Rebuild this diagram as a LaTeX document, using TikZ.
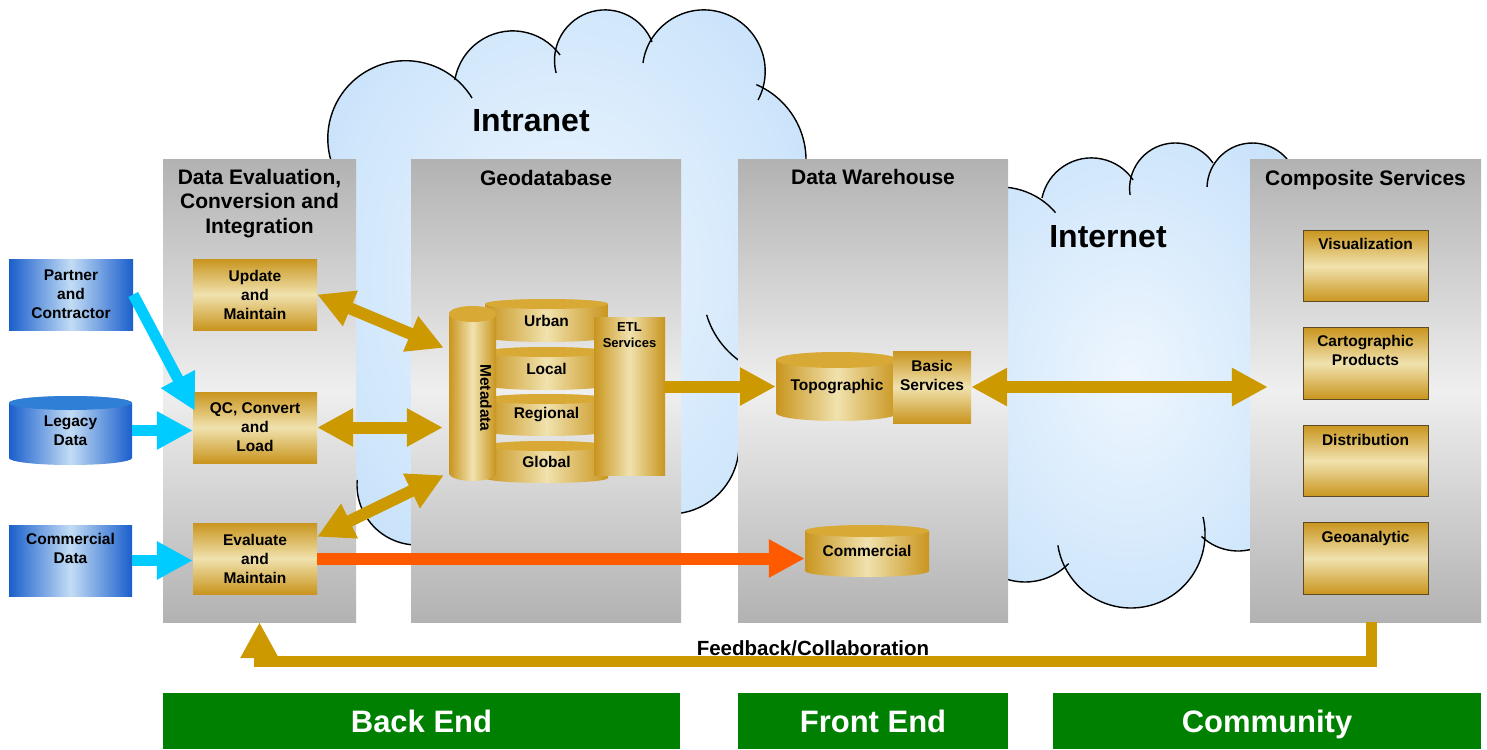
\documentclass[tikz,border=0pt]{standalone}
\usepackage{fontspec}
\setmainfont{Liberation Sans}
\usetikzlibrary{arrows.meta,positioning,calc}

\definecolor{panelgray}{HTML}{B2B2B2}
\definecolor{panellight}{HTML}{EFEFEF}
\definecolor{golddark}{HTML}{C9951E}
\definecolor{goldlight}{HTML}{F0E2AE}
\definecolor{goldcap}{HTML}{D8AA35}
\definecolor{goldline}{HTML}{CC9900}
\definecolor{bluedark}{HTML}{1A5FCC}
\definecolor{bluelight}{HTML}{C3DCF5}
\definecolor{bluecap}{HTML}{2F7FD6}
\definecolor{cloudin}{HTML}{EEF6FE}
\definecolor{cloudout}{HTML}{C4E0FA}
\definecolor{skyblue}{HTML}{00CCFF}
\definecolor{flame}{HTML}{FF5A00}
\definecolor{tabgreen}{HTML}{008000}
\definecolor{compedge}{HTML}{5C4A24}

\tikzset{
  panel/.style={top color=panelgray, bottom color=panelgray, middle color=panellight,
    minimum width=#1, minimum height=463, inner sep=0},
  paneltitle/.style={font=\fontsize{21}{24.5}\selectfont\bfseries, align=center, inner sep=0},
  itemtext/.style={font=\fontsize{15.5}{19}\selectfont\bfseries, align=center, inner sep=0},
  smalltext/.style={font=\fontsize{13}{16}\selectfont\bfseries, align=center, inner sep=0},
  cloudtext/.style={font=\fontsize{32}{38}\selectfont\bfseries, inner sep=0},
  goldbox/.style={itemtext, top color=golddark, bottom color=golddark, middle color=goldlight,
    minimum width=124, minimum height=71},
  compbox/.style={goldbox, draw=compedge, line width=1pt, minimum width=125, minimum height=71.5},
  bluebox/.style={itemtext, left color=bluedark, right color=bluedark, middle color=bluelight,
    minimum width=124, minimum height=71},
  etlbox/.style={left color=golddark, right color=golddark, middle color=goldlight,
    minimum width=71, minimum height=158, inner sep=0},
  greentab/.style={fill=tabgreen, text=white, font=\fontsize{31}{36}\selectfont\bfseries,
    minimum width=#1, minimum height=56, inner sep=0, text depth=0pt},
  goldbody/.style={left color=golddark, right color=golddark, middle color=goldlight},
  goldtop/.style={fill=goldcap},
  bluebody/.style={left color=bluedark, right color=bluedark, middle color=bluelight},
  bluetop/.style={fill=bluecap},
  cloudline/.style={draw=black, line width=1.4pt},
  bluearrow/.style={->, draw=skyblue, line width=11pt},
  goldarrow/.style={<->, draw=goldline, line width=12pt},
  goldpush/.style={->, draw=goldline, line width=12pt},
  flamearrow/.style={->, draw=flame, line width=12pt},
  feedback/.style={->, draw=goldline, line width=11pt},
}

% name, x left, y top, x right, y bottom, end radius, colour, text
\newcommand{\cyl}[8]{%
  \shade[#7body] (#2,#3+#6) -- (#2,#5-#6)
    arc[start angle=180, end angle=0, x radius={(#4-#2)/2}, y radius=#6]
    -- (#4,#3+#6)
    arc[start angle=0, end angle=-180, x radius={(#4-#2)/2}, y radius=#6] -- cycle;
  \fill[#7top] ({(#2+#4)/2},#3+#6) ellipse[x radius={(#4-#2)/2}, y radius=#6];
  \node[itemtext, minimum width={#4-#2}, minimum height={#5-#3}] (#1)
    at ({(#2+#4)/2},{(#3+#5)/2}) {#8};
}

\begin{document}
\begin{tikzpicture}[x=1pt, y=-1pt, >={Triangle[length=36pt,width=36pt]}]
  \fill[white] (0,0) rectangle (1487,749);
  \useasboundingbox (0,0) rectangle (1487,749);

  % intranet cloud
  \begin{scope}
    \clip (405.6,138.5) circle[radius=77.8] (512.7,89.5) circle[radius=58.6]
      (605,60.4) circle[radius=50.5] (703.8,71.3) circle[radius=61.4]
      (724,160) circle[radius=82] (417,485) circle[radius=60] (670,445) circle[radius=69]
      (345,130) -- (380,88) -- (760,88) -- (790,130) -- (790,400) -- (738,440) -- (345,480) -- cycle;
    \shade[inner color=cloudin, outer color=cloudout] (250,-120) rectangle (880,670);
  \end{scope}
  \draw[cloudline] (405.6,138.5) ++(155:77.8) arc[start angle=155, end angle=328.6, radius=77.8];
  \draw[cloudline] (512.7,89.5) ++(189.35:58.6) arc[start angle=189.35, end angle=323.9, radius=58.6];
  \draw[cloudline] (605,60.4) ++(165.6:50.5) arc[start angle=165.6, end angle=338.6, radius=50.5];
  \draw[cloudline] (703.8,71.3) ++(187.8:61.4) arc[start angle=187.8, end angle=387.9, radius=61.4];
  \draw[cloudline] (724,160) ++(293.2:82) arc[start angle=293.2, end angle=365, radius=82];
  \draw[cloudline] (417,485) ++(185:60) arc[start angle=185, end angle=90, radius=60];
  \draw[cloudline] (670,445) ++(5:69) arc[start angle=5, end angle=100, radius=69];
  \draw[cloudline] (790,290) ++(163.4:87) arc[start angle=163.4, end angle=120, radius=87];

  % internet cloud
  \begin{scope}
    \clip (1000,260) circle[radius=73] (1091.4,208.4) circle[radius=50.5]
      (1175.2,188.6) circle[radius=45.6] (1252.4,188.4) circle[radius=45.4]
      (1131,534) circle[radius=74] (1238,498) circle[radius=53] (1025,521) circle[radius=61]
      (990,205) -- (1270,205) -- (1270,530) -- (990,530) -- cycle;
    \shade[inner color=cloudin, outer color=cloudout] (880,55) rectangle (1380,695);
  \end{scope}
  \draw[cloudline] (1000,260) ++(255:73) arc[start angle=255, end angle=319.5, radius=73];
  \draw[cloudline] (1091.4,208.4) ++(191.9:50.5) arc[start angle=191.9, end angle=325.7, radius=50.5];
  \draw[cloudline] (1175.2,188.6) ++(171.9:45.6) arc[start angle=171.9, end angle=325.9, radius=45.6];
  \draw[cloudline] (1252.4,188.4) ++(181.8:45.4) arc[start angle=181.8, end angle=345, radius=45.4];
  \draw[cloudline] (1238,498) ++(133.5:53) arc[start angle=133.5, end angle=60, radius=53];
  \draw[cloudline] (1131,534) ++(-13.3:74) arc[start angle=-13.3, end angle=171.2, radius=74];
  \draw[cloudline] (1025,521) ++(44.3:61) arc[start angle=44.3, end angle=135, radius=61];

  \node[cloudtext] (intranet) at (531,121) {Intranet};
  \node[cloudtext] (internet) at (1108,237) {Internet};

  % panels
  \node[panel=193] (dataeval) at (259.5,390.5) {};
  \node[panel=270] (geodb) at (546,390.5) {};
  \node[panel=270] (warehouse) at (873,390.5) {};
  \node[panel=231] (composite) at (1365.5,390.5) {};
  \node[paneltitle, below=10pt of dataeval.north] (evaltitle) {Data Evaluation,\\Conversion and\\Integration};
  \node[paneltitle, below=11pt of geodb.north] (geotitle) {Geodatabase};
  \node[paneltitle, below=10pt of warehouse.north] (housetitle) {Data Warehouse};
  \node[paneltitle, below=11pt of composite.north] (comptitle) {Composite Services};

  % sources
  \node[bluebox] (partner) at (71,294.5) {Partner\\and\\Contractor};
  \cyl{legacy}{9}{396}{132}{465}{7}{blue}{Legacy\\Data}
  \node[bluebox, minimum width=123] (commdata) at (70.5,560.5) {};
  \node[itemtext, below=8pt of commdata.north] (commdatalbl) {Commercial\\Data};

  \node[goldbox] (update) at (255,294.5) {Update\\and\\Maintain};
  \node[goldbox] (qcload) at (255,427.5) {QC, Convert\\and\\Load};
  \node[goldbox] (evalmaint) at (255,558.5) {Evaluate\\and\\Maintain};

  % geodatabase
  \cyl{urban}{485}{299}{608}{342}{5}{gold}{Urban}
  \cyl{local}{485}{347}{608}{390}{5}{gold}{Local}
  \cyl{regional}{485}{394}{608}{436}{5}{gold}{Regional}
  \cyl{global}{485}{441}{608}{483}{5}{gold}{Global}
  \cyl{meta}{449}{306}{496}{481}{8}{gold}{}
  \node[itemtext, rotate=-90] (metalbl) at (486,398) {Metadata};
  \node[etlbox] (etl) at (629.5,396) {};
  \node[smalltext, below=6pt of etl.north] (etllbl) {ETL\\Services};

  % data warehouse
  \cyl{topo}{776}{352}{898}{421}{8}{gold}{Topographic}
  \node[goldbox, minimum width=78, minimum height=72] (basic) at (932,387) {};
  \node[itemtext, below=9pt of basic.north] (basiclbl) {Basic\\Services};
  \cyl{commercial}{805}{525}{929}{577}{6}{gold}{Commercial}

  % composite services
  \node[compbox] (vis) at (1365.5,266) {};
  \node[compbox] (carto) at (1365.5,363.5) {};
  \node[compbox] (distrib) at (1365.5,461) {};
  \node[compbox] (geoan) at (1365.5,558.5) {};
  \node[itemtext, below=8pt of vis.north] (vislbl) {Visualization};
  \node[itemtext, below=8pt of carto.north] (cartolbl) {Cartographic\\Products};
  \node[itemtext, below=9pt of distrib.north] (distriblbl) {Distribution};
  \node[itemtext, below=9pt of geoan.north] (geoanlbl) {Geoanalytic};

  % connectors
  \draw[bluearrow] (partner.east) -- ([shift={(2,19)}]qcload.north west);
  \draw[bluearrow] (legacy.east) -- (legacy.east -| qcload.west);
  \draw[bluearrow] (commdata.east) -- (commdata.east -| evalmaint.west);
  \draw[goldarrow] (update.east) -- ([shift={(-5,42)}]meta.north west);
  \draw[goldarrow] (qcload.east) -- ([xshift=-6pt]qcload.east -| meta.west);
  \draw[goldarrow] ([yshift=-14pt]evalmaint.north east) -- ([shift={(-5,-6)}]meta.south west);
  \draw[goldpush] (topo.west -| etl.east) -- (topo.west);
  \draw[goldarrow] (basic.east) -- ([xshift=18pt]basic.east -| composite.west);
  \draw[flamearrow] (evalmaint.east) -- (evalmaint.east -| commercial.west);
  \draw[feedback] ([xshift=6pt]composite.south) -- ++(0,39) -| (dataeval.south);
  \node[font=\fontsize{20.5}{24}\selectfont\bfseries, anchor=base, inner sep=0] (fblbl)
    at (813,655) {Feedback/Collaboration};

  % tiers
  \node[greentab=517] (backend) at (421.5,721) {Back End};
  \node[greentab=270] (frontend) at (873,721) {Front End};
  \node[greentab=428] (community) at (1267,721) {Community};
\end{tikzpicture}
\end{document}
